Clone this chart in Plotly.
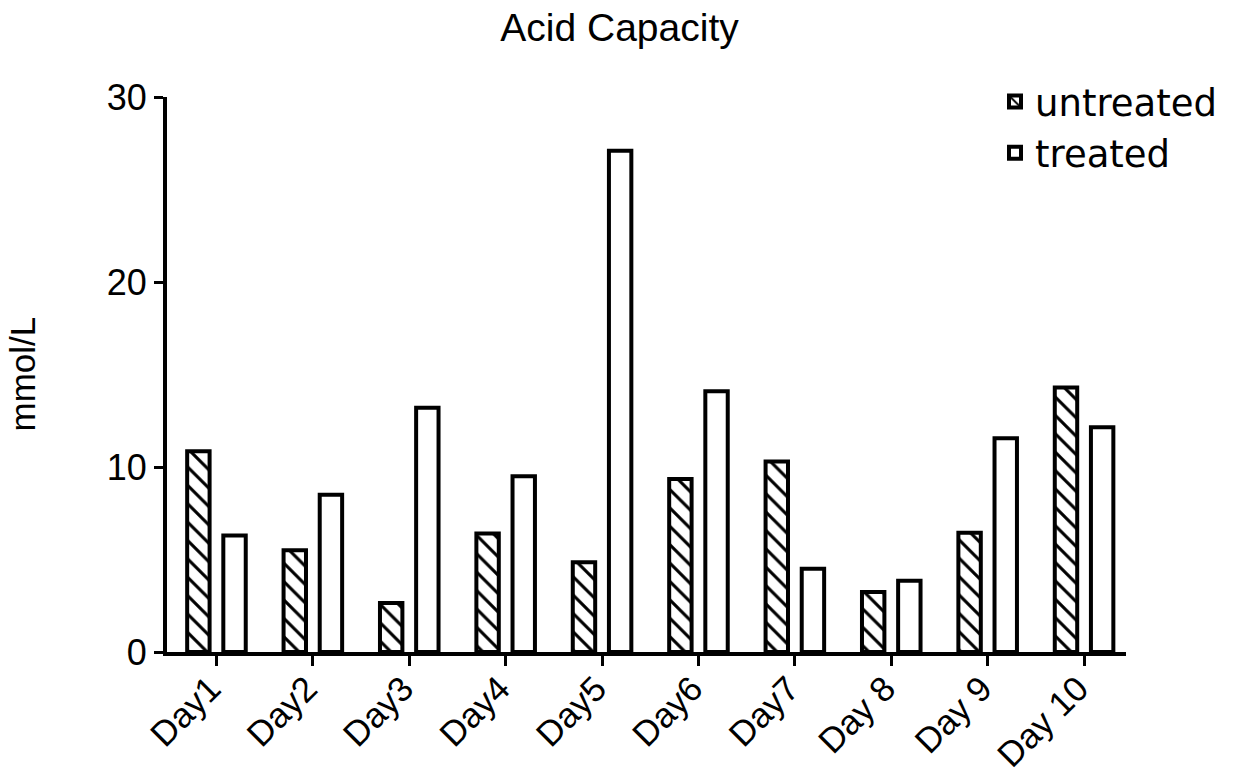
import plotly.graph_objects as go

days = ["Day1", "Day2", "Day3", "Day4", "Day5", "Day6", "Day7", "Day 8", "Day 9", "Day 10"]
untreated = [10.85, 5.5, 2.65, 6.4, 4.85, 9.35, 10.3, 3.25, 6.45, 14.3]
treated = [6.3, 8.5, 13.2, 9.5, 27.1, 14.1, 4.5, 3.85, 11.55, 12.15]
y_ticks = [0, 10, 20, 30]

W, H = 1239, 781
L, R, T, B = 167, 113, 97, 129
pw = W - L - R
ph = H - T - B

fig = go.Figure()
fig.add_trace(go.Bar(
    x=days, y=untreated, name="untreated",
    marker=dict(color="white",
                line=dict(color="black", width=4),
                pattern=dict(shape="\\", fgcolor="black", bgcolor="white",
                             size=13, solidity=0.24, fillmode="replace")),
))
fig.add_trace(go.Bar(
    x=days, y=treated, name="treated",
    marker=dict(color="white", line=dict(color="black", width=4)),
))

font_main = "Liberation Sans, Arial, Helvetica, sans-serif"

fig.update_layout(
    width=W, height=H,
    margin=dict(l=L, r=R, t=T, b=B, autoexpand=False),
    paper_bgcolor="white", plot_bgcolor="white",
    barmode="group", bargap=0.25, bargroupgap=0.38,
    title=dict(text="Acid Capacity", x=0.5, xref="container", xanchor="center",
               y=1 - 27 / H, yref="container", yanchor="middle",
               font=dict(family=font_main, size=39, color="black")),
    showlegend=True,
    legend=dict(x=(995 - L) / pw, xanchor="left", y=1 + (T - 71) / ph, yanchor="top",
                bgcolor="rgba(0,0,0,0)", borderwidth=0,
                font=dict(family="DejaVu Sans, sans-serif", size=37, color="black"),
                tracegroupgap=0, itemwidth=30),
    font=dict(family=font_main, color="black"),
)

fig.update_xaxes(
    type="category", range=[-0.513, 9.435],
    showline=True, linecolor="black", linewidth=4,
    ticks="outside", ticklen=10, tickwidth=3, tickcolor="black",
    tickangle=-45, tickfont=dict(family=font_main, size=35, color="black"),
    ticklabelstandoff=-12, ticklabelshift=-6,
    showgrid=False, zeroline=False,
)
fig.update_yaxes(
    range=[0, 30], tickvals=y_ticks, ticktext=[str(v) for v in y_ticks],
    showline=True, linecolor="black", linewidth=4,
    ticks="outside", ticklen=9, tickwidth=3, tickcolor="black",
    tickfont=dict(family=font_main, size=36, color="black"),
    showgrid=False, zeroline=False,
)

fig.add_annotation(
    text="mmol/L", textangle=-90, xref="paper", yref="paper",
    x=(22 - L) / pw, y=0.5, xanchor="center", yanchor="middle", showarrow=False,
    font=dict(family=font_main, size=35, color="black"),
)

fig.write_html("out.html", config={"displayModeBar": False},
               post_script="document.body.style.margin='0';document.body.style.overflow='hidden';")
